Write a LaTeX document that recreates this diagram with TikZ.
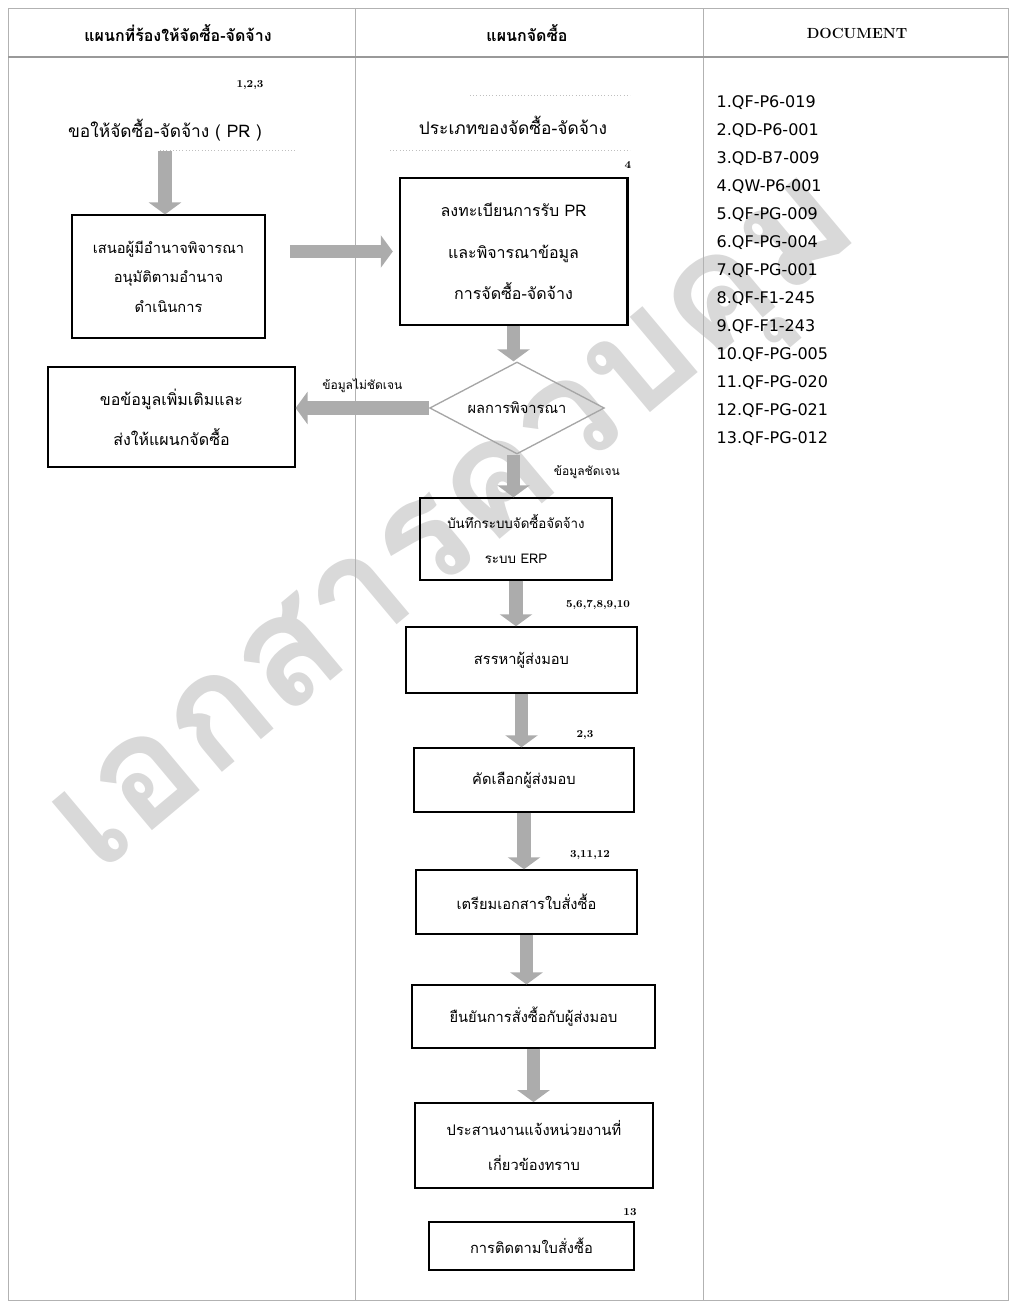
\documentclass[tikz,border=0pt]{standalone}
\usepackage{fontspec}
\newfontfamily\thaifont[Script=Thai]{Loma}
\newfontfamily\docfont{DejaVu Sans}
\usetikzlibrary{positioning,shapes.geometric,arrows.meta}

\begin{document}
\begin{tikzpicture}[x=0.75pt,y=-0.75pt,
  box/.style={draw,line width=1.1pt,align=center,font=\thaifont\fontsize{11}{22}\selectfont,inner sep=2pt},
  decision/.style={draw=gray!70,line width=1pt,diamond,aspect=1.9,inner sep=0pt,font=\thaifont\fontsize{11}{13}\selectfont},
  flow/.style={line width=10pt,gray!65,-{Triangle[length=9pt,width=24pt]}},
  tag/.style={font=\fontsize{8}{9}\selectfont\bfseries},
  head/.style={font=\thaifont\fontsize{12}{14}\selectfont\bfseries},
  grid/.style={gray!60,line width=0.6pt}]
\useasboundingbox (0,0) rectangle (1011,1307);

% watermark
\node[gray!30,rotate=40,font=\thaifont\fontsize{116}{116}\selectfont\bfseries] (mark) at (465,535) {เอกสารควบคุม};

% frame and columns
\draw[grid] (8,8) rectangle (1008,1300);
\draw[grid] (355,8) -- (355,1300);
\draw[grid] (703,8) -- (703,1300);
\draw[gray!80,line width=1pt] (8,57) -- (1008,57);
\node[head] (h1) at (178,33) {แผนกที่ร้องให้จัดซื้อ-จัดจ้าง};
\node[head] (h2) at (527,33) {แผนกจัดซื้อ};
\node[font=\fontsize{11}{13}\selectfont\bfseries] (h3) at (857,33) {DOCUMENT};

% documents
\foreach \d [count=\i from 0] in {1.QF-P6-019,2.QD-P6-001,3.QD-B7-009,4.QW-P6-001,5.QF-PG-009,6.QF-PG-004,7.QF-PG-001,8.QF-F1-245,9.QF-F1-243,10.QF-PG-005,11.QF-PG-020,12.QF-PG-021,13.QF-PG-012}
  \node[anchor=west,font=\docfont\fontsize{12}{14}\selectfont] (doc\i) at (712,103+28*\i) {\d};

% left column
\node[tag] (t1) at (250,85) {1,2,3};
\node[font=\thaifont\fontsize{13}{15}\selectfont] (pr) at (165,130) {ขอให้จัดซื้อ-จัดจ้าง ( PR )};
\draw[gray!50,dotted] (160,150) -- (295,150);
\node[box,minimum width=145pt,minimum height=92pt] (b1) at (168.5,276.5) {เสนอผู้มีอำนาจพิจารณา\\อนุมัติตามอำนาจ\\ดำเนินการ};
\node[box,minimum width=185pt,minimum height=75pt,font=\thaifont\fontsize{12}{30}\selectfont] (b3) at (171.5,417) {ขอข้อมูลเพิ่มเติมและ\\ส่งให้แผนกจัดซื้อ};

% purchasing column
\draw[gray!50,dotted] (470,95) -- (630,95);
\draw[gray!50,dotted] (390,150) -- (630,150);
\node[font=\thaifont\fontsize{13}{15}\selectfont] (kind) at (513,125) {ประเภทของจัดซื้อ-จัดจ้าง};
\node[box,minimum width=170pt,minimum height=110pt,font=\thaifont\fontsize{12}{31}\selectfont] (b2) at (513.5,251.5) {ลงทะเบียนการรับ PR\\และพิจารณาข้อมูล\\การจัดซื้อ-จัดจ้าง};
\draw[line width=2pt] (b2.north east) -- (b2.south east);
\node[tag] (t4) at (628,165) {4};
\node[decision,minimum width=131pt,minimum height=69pt] (dec) at (517,408) {ผลการพิจารณา};
\node[box,minimum width=144pt,minimum height=61.5pt,font=\thaifont\fontsize{10}{26}\selectfont] (b4) at (516,539) {บันทึกระบบจัดซื้อจัดจ้าง\\ระบบ ERP};
\node[box,minimum width=173pt,minimum height=49.5pt] (b5) at (521.5,660) {สรรหาผู้ส่งมอบ};
\node[box,minimum width=165pt,minimum height=48pt] (b6) at (524,780) {คัดเลือกผู้ส่งมอบ};
\node[box,minimum width=166pt,minimum height=48pt] (b7) at (526.5,902) {เตรียมเอกสารใบสั่งซื้อ};
\node[box,minimum width=182pt,minimum height=47pt] (b8) at (533.5,1016.5) {ยืนยันการสั่งซื้อกับผู้ส่งมอบ};
\node[box,minimum width=178.5pt,minimum height=64pt,font=\thaifont\fontsize{11}{26}\selectfont] (b9) at (534,1145.5) {ประสานงานแจ้งหน่วยงานที่\\เกี่ยวข้องทราบ};
\node[box,minimum width=154pt,minimum height=36pt] (b10) at (531.5,1246) {การติดตามใบสั่งซื้อ};
\node[tag] (t5) at (598,605) {5,6,7,8,9,10};
\node[tag] (t6) at (585,735) {2,3};
\node[tag] (t7) at (590,855) {3,11,12};
\node[tag] (t13) at (630,1212) {13};

% flow
\draw[flow,shorten <=4pt] (pr.south) -- (pr.south |- b1.north);
\draw[flow,shorten <=18pt,shorten >=5pt] (b1.east |- b2.west) -- (b2.west);
\draw[flow] (b2.south) -- (b2.south |- dec.north);
\draw[flow] (dec.west) -- (dec.west -| b3.east) node[midway,above=3pt,font=\thaifont\fontsize{9}{11}\selectfont,black] {ข้อมูลไม่ชัดเจน};
\draw[flow] (b2.south |- dec.south) -- (b2.south |- b4.north) node[pos=0.4,right=22pt,font=\thaifont\fontsize{9}{11}\selectfont,black] {ข้อมูลชัดเจน};
\draw[flow] (b4.south) -- (b4.south |- b5.north);
\draw[flow] (b5.south) -- (b5.south |- b6.north);
\draw[flow] (b6.south) -- (b6.south |- b7.north);
\draw[flow] (b7.south) -- (b7.south |- b8.north);
\draw[flow] (b8.south) -- (b8.south |- b9.north);
\end{tikzpicture}
\end{document}
